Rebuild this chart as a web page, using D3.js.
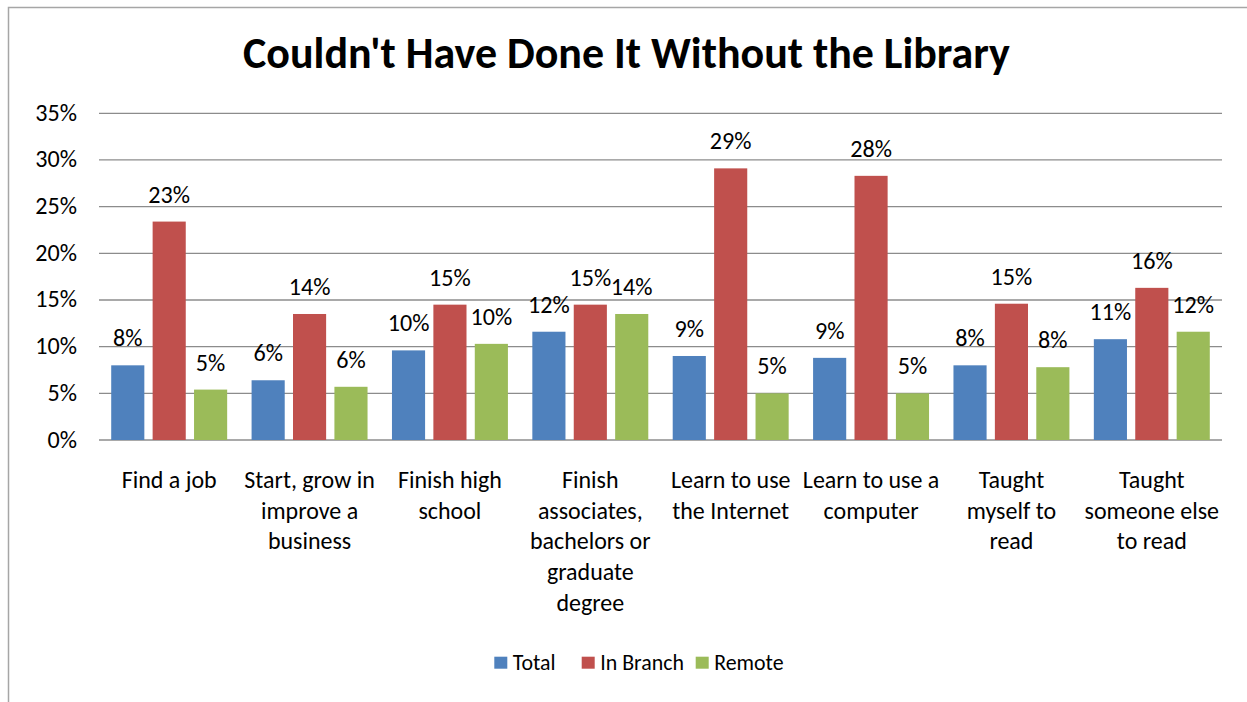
<!DOCTYPE html>
<html><head><meta charset="utf-8">
<script src="https://cdn.jsdelivr.net/npm/d3@7"></script>
<style>body{margin:0;background:#fff} svg{display:block}</style></head>
<body>
<svg id="c" width="1247" height="702"></svg>
<script>
const categories = ["Find a job", "Start, grow in\nimprove a\nbusiness", "Finish high\nschool",
  "Finish\nassociates,\nbachelors or\ngraduate\ndegree", "Learn to use\nthe Internet",
  "Learn to use a\ncomputer", "Taught\nmyself to\nread", "Taught\nsomeone else\nto read"];
const seriesNames = ["Total", "In Branch", "Remote"];
const totalValues = [8.0, 6.4, 9.6, 11.6, 9.0, 8.8, 8.0, 10.8];
const inBranchValues = [23.4, 13.5, 14.5, 14.5, 29.1, 28.3, 14.6, 16.3];
const remoteValues = [5.4, 5.7, 10.3, 13.5, 5.0, 5.0, 7.8, 11.6];
const seriesColors = ["#4F81BD", "#C0504D", "#9BBB59"];
const yTicks = [0, 5, 10, 15, 20, 25, 30, 35];
const titleText = "Couldn't Have Done It Without the Library";

const seriesValues = [totalValues, inBranchValues, remoteValues];
const FONT = "Carlito, Calibri, 'Liberation Sans Narrow', Roboto, 'Liberation Sans', sans-serif";
const svg = d3.select("#c");

function fitSize(text, weight, target) {
  const base = 20;
  const t = svg.append("text").attr("font-family", FONT).attr("font-weight", weight)
    .attr("font-size", base).text(text);
  const w = t.node().getComputedTextLength();
  t.remove();
  return base * target / w;
}
const titleSize = fitSize(titleText, "bold", 767);
const tickSize = fitSize("35%", "normal", 41.7);
const catSize = fitSize("Find a job", "normal", 95);
const legSize = d3.mean([fitSize("Total", "normal", 51), fitSize("In Branch", "normal", 74.3), fitSize("Remote", "normal", 64)]);

// frame
svg.append("rect").attr("x", 8.5).attr("y", 7.5).attr("width", 1300).attr("height", 800)
  .attr("fill", "none").attr("stroke", "#a6a6a6").attr("stroke-width", 1.5);

const plotLeft = 99, plotRight = 1222, plotTop = 113.3, plotBottom = 440;
const y = d3.scaleLinear().domain([0, 35]).range([plotBottom, plotTop]);
const x0 = d3.scaleBand().domain(categories).range([plotLeft, plotRight]).paddingInner(0.174).paddingOuter(0.087);
const x1 = d3.scaleBand().domain(seriesNames).range([0, x0.bandwidth()]).paddingInner(0.2);

// title
svg.append("text").attr("x", 626.5).attr("y", 68).attr("text-anchor", "middle")
  .attr("font-family", FONT).attr("font-weight", "bold").attr("font-size", titleSize)
  .attr("fill", "#000").text(titleText);

// gridlines
svg.append("g").selectAll("line").data(yTicks).join("line")
  .attr("x1", plotLeft).attr("x2", plotRight).attr("y1", d => y(d)).attr("y2", d => y(d))
  .attr("stroke", "#8c8c8c").attr("stroke-width", 1.3);

// y axis labels
svg.append("g").selectAll("text").data(yTicks).join("text")
  .attr("x", 77).attr("y", d => y(d) + 7.5).attr("text-anchor", "end")
  .attr("font-family", FONT).attr("font-size", tickSize).attr("fill", "#000")
  .text(d => d + "%");

// bars
const rows = categories.map((c, i) => ({ c, vals: seriesNames.map((s, j) => ({ s, j, v: seriesValues[j][i] })) }));
const groups = svg.append("g").selectAll("g").data(rows).join("g")
  .attr("transform", d => `translate(${x0(d.c)},0)`);
groups.selectAll("rect").data(d => d.vals).join("rect")
  .attr("x", d => x1(d.s)).attr("width", x1.bandwidth())
  .attr("y", d => y(d.v)).attr("height", d => y(0) - y(d.v))
  .attr("fill", d => seriesColors[d.j]);
groups.selectAll("text").data(d => d.vals).join("text")
  .attr("x", d => x1(d.s) + x1.bandwidth() / 2).attr("y", d => y(d.v) - 19)
  .attr("text-anchor", "middle").attr("font-family", FONT).attr("font-size", tickSize)
  .attr("fill", "#000").text(d => Math.round(d.v) + "%");

// category labels
const cl = svg.append("g").selectAll("text").data(categories).join("text")
  .attr("x", d => x0(d) + x0.bandwidth() / 2).attr("y", 488)
  .attr("text-anchor", "middle").attr("font-family", FONT).attr("font-size", catSize).attr("fill", "#000");
cl.selectAll("tspan").data(d => d.split("\n")).join("tspan")
  .attr("x", function () { return d3.select(this.parentNode).attr("x"); })
  .attr("dy", (d, i) => i === 0 ? 0 : 30.7).text(d => d);

// legend
const legX = [494.3, 581.7, 695.7];
const leg = svg.append("g").selectAll("g").data(seriesNames).join("g")
  .attr("transform", (d, i) => `translate(${legX[i]},0)`);
leg.append("rect").attr("x", 0).attr("y", 656.7).attr("width", 13).attr("height", 12)
  .attr("fill", (d, i) => seriesColors[i]);
leg.append("text").attr("x", 18.5).attr("y", 669.5).attr("font-family", FONT).attr("font-size", legSize)
  .attr("fill", "#000").text(d => d);
</script>
</body></html>
